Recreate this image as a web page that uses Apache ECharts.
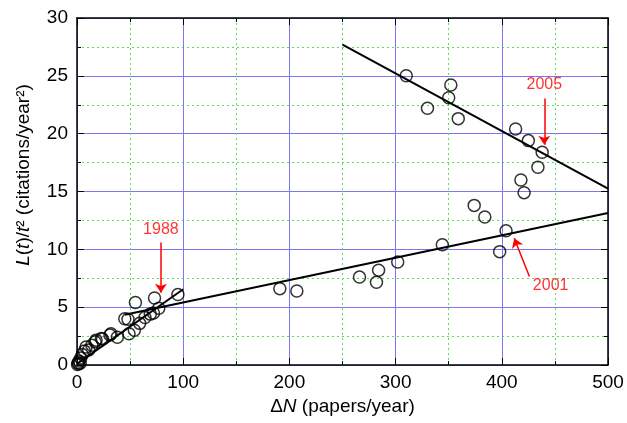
<!DOCTYPE html>
<html>
<head>
<meta charset="utf-8">
<script src="https://cdn.jsdelivr.net/npm/echarts@6/dist/echarts.min.js"></script>
<style>html,body{margin:0;padding:0;background:#fff}#c{width:627px;height:423px}</style>
</head>
<body>
<div id="c"></div>
<script>
// ---- data ----
const xTicks = [0, 100, 200, 300, 400, 500];
const yTicks = [0, 5, 10, 15, 20, 25, 30];

// early years (small ΔN)
const pointsEarly = [
  [0.5, 0.05], [1, 0.2], [1.5, 0.1], [2, 0.35], [3, 0.15], [3.5, 0.6], [5, 0.9],
  [7, 1.2], [8.5, 1.55], [11, 1.3], [14, 1.7], [17, 2.0], [18, 2.15], [23, 2.3],
  [24, 2.25], [31, 2.6], [32, 2.7], [38, 2.4], [45, 4.0], [48, 3.95], [49, 2.7],
  [54, 3.0], [55, 5.4], [59, 3.6], [64, 4.1], [69, 4.4], [72, 4.5], [73, 5.8],
  [77, 4.9], [95, 6.1]
];
// middle years
const pointsMid = [
  [191, 6.6], [207, 6.4], [266, 7.6], [282, 7.15], [284, 8.2], [302, 8.9],
  [344, 10.4], [398, 9.8], [404, 11.6]
];
// late years
const pointsLate = [
  [310, 25.0], [330, 22.2], [350, 23.1], [352, 24.2], [359, 21.3], [374, 13.8],
  [384, 12.8], [413, 20.4], [418, 16.0], [421, 14.9], [425, 19.4], [434, 17.1],
  [438, 18.4]
];
// fitted lines
const fitSteep = [[0, 0.1], [100, 6.55]];
const fitShallow = [[45, 4.35], [500, 13.15]];
const fitFalling = [[250, 27.7], [500, 15.25]];
// annotations: [x, y, text]
const labels = [[79, 11.7, '1988'], [440, 24.2, '2005'], [446, 6.9, '2001']];
const arrows = [
  [[79, 10.6], [79, 6.25]],
  [[440, 23.05], [440, 19.05]],
  [[426, 7.65], [411.7, 10.95]]
];

const FONT = '"Liberation Sans", Arial, sans-serif';
const chart = echarts.init(document.getElementById('c'), null, {renderer: 'canvas'});

const blue = '#7878f2';
const green = '#55dd55';

const baseX = {
  type: 'value', min: xTicks[0], max: xTicks[xTicks.length - 1], interval: 100,
  minorTick: {show: true, splitNumber: 2, length: 4, lineStyle: {color: '#000', width: 1}},
  axisTick: {show: true, inside: true, length: 7, lineStyle: {color: '#000', width: 1}},
  axisLine: {show: true, onZero: false, lineStyle: {color: '#000', width: 1.5}}
};
const baseY = {
  type: 'value', min: yTicks[0], max: yTicks[yTicks.length - 1], interval: 5,
  minorTick: {show: true, splitNumber: 2, length: 4, lineStyle: {color: '#000', width: 1}},
  axisTick: {show: true, inside: true, length: 7, lineStyle: {color: '#000', width: 1}},
  axisLine: {show: true, onZero: false, lineStyle: {color: '#000', width: 1.5}}
};

const circleStyle = {color: 'rgba(255,255,255,0)', borderColor: '#000', borderWidth: 1.5};
const scatterSeries = (d) => ({
  type: 'scatter', data: d, symbol: 'circle', symbolSize: 12,
  itemStyle: circleStyle, z: 5, silent: true
});
const lineSeries = (d) => ({
  type: 'line', data: d, showSymbol: false, symbol: 'none',
  lineStyle: {color: '#000', width: 2}, z: 4, silent: true
});

chart.setOption({
  animation: false,
  backgroundColor: '#fff',
  grid: {left: 77, top: 18, right: 19, bottom: 58, containLabel: false},
  xAxis: [
    Object.assign({}, baseX, {
      position: 'bottom',
      axisLabel: {show: true, fontFamily: FONT, fontSize: 19, color: '#000', margin: 8},
      splitLine: {show: true, lineStyle: {color: blue, width: 1}},
      minorSplitLine: {show: true, lineStyle: {color: green, width: 1, type: [2, 3]}},
      name: '{n|Δ}{i|N} (papers/year)', nameLocation: 'middle', nameGap: 26,
      nameTextStyle: {fontFamily: FONT, fontSize: 19, color: '#000',
        rich: {n: {fontFamily: FONT, fontSize: 19, color: '#000'},
               i: {fontFamily: FONT, fontSize: 19, color: '#000', fontStyle: 'italic'}}}
    }),
    Object.assign({}, baseX, {
      position: 'top', axisLabel: {show: false}, splitLine: {show: false},
      minorSplitLine: {show: false}
    })
  ],
  yAxis: [
    Object.assign({}, baseY, {
      position: 'left',
      axisLabel: {show: true, fontFamily: FONT, fontSize: 19, color: '#000', margin: 9},
      splitLine: {show: true, lineStyle: {color: blue, width: 1}},
      minorSplitLine: {show: true, lineStyle: {color: green, width: 1, type: [2, 3]}}
    }),
    Object.assign({}, baseY, {
      position: 'right', axisLabel: {show: false}, splitLine: {show: false},
      minorSplitLine: {show: false}
    })
  ],
  graphic: [{
    type: 'text', x: 24, y: 175, rotation: Math.PI / 2,
    style: {
      text: '{i|L}({i|t})/{i|t}² (citations/year²)',
      fontFamily: FONT, fontSize: 19, fill: '#000',
      align: 'center', verticalAlign: 'middle',
      rich: {i: {fontFamily: FONT, fontSize: 19, fill: '#000', fontStyle: 'italic'}}
    }
  }],
  series: [
    lineSeries(fitSteep),
    lineSeries(fitShallow),
    lineSeries(fitFalling),
    scatterSeries(pointsEarly),
    scatterSeries(pointsMid),
    scatterSeries(pointsLate),
    {
      type: 'lines', coordinateSystem: 'cartesian2d', silent: true, z: 6,
      symbol: ['none', 'arrow'], symbolSize: [0, 9],
      lineStyle: {color: '#ff0000', width: 1.5, opacity: 1, curveness: 0},
      data: arrows.map(a => ({coords: a}))
    },
    {
      type: 'scatter', symbolSize: 0, silent: true, z: 7,
      data: labels.map(l => ({value: [l[0], l[1]], name: l[2]})),
      label: {show: true, position: 'inside', formatter: p => p.name,
        fontFamily: FONT, fontSize: 16, color: '#ff0000'}
    }
  ]
});
</script>
</body>
</html>
